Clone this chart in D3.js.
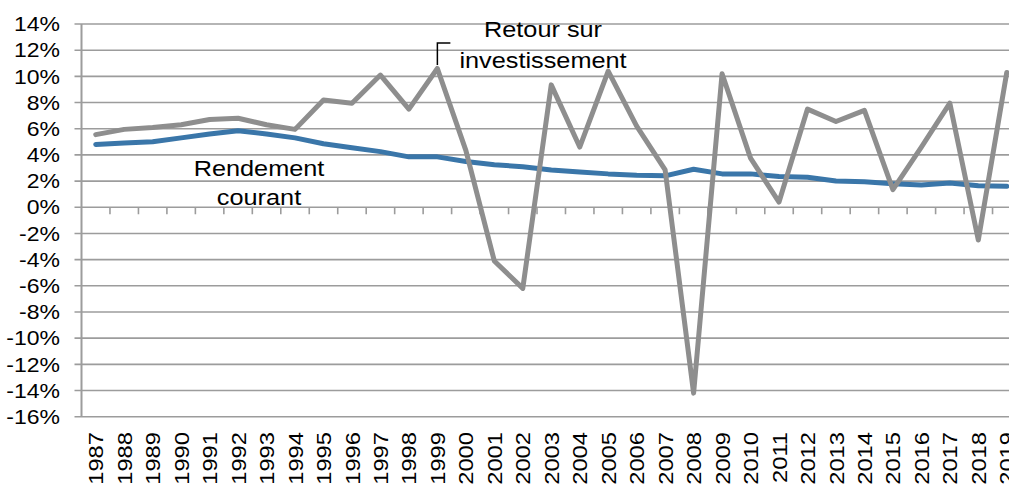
<!DOCTYPE html>
<html>
<head>
<meta charset="utf-8">
<script src="https://cdn.jsdelivr.net/npm/d3@7"></script>
<style>
  html, body { margin: 0; padding: 0; background: #fff; }
  svg { display: block; }
  text { font-family: "Liberation Sans", Arial, sans-serif; fill: #000; }
</style>
</head>
<body>
<svg id="chart" width="1009" height="484"></svg>
<script>
// ---- data ----
const years = d3.range(1987, 2020).map(String);
const rendementCourant = [4.8,4.9,5.0,5.3,5.6,5.85,5.6,5.3,4.85,4.55,4.25,3.85,3.85,3.5,3.25,3.1,2.85,2.7,2.55,2.45,2.4,2.9,2.55,2.55,2.35,2.3,2.0,1.95,1.8,1.7,1.85,1.65,1.6];
const retourInvest = [5.55,5.95,6.1,6.3,6.7,6.8,6.3,5.95,8.2,7.95,10.1,7.5,10.6,4.35,-4.1,-6.2,9.35,4.6,10.4,6.2,2.85,-14.2,10.2,3.75,0.4,7.5,6.55,7.4,1.35,4.6,7.95,-2.5,10.3];
const yTicks = d3.range(-16, 15, 2);
const yTickLabels = yTicks.map(v => v + "%");
const labelRetour = ["Retour sur", "investissement"];
const labelRendement = ["Rendement", "courant"];

// ---- layout ----
const W = 1009, H = 484;
const plotLeft = 81.5, step = 28.47;
const plotTop = 24, plotBottom = 416.7;
const svg = d3.select("#chart");

const x = d3.scaleBand().domain(years).range([plotLeft, plotLeft + step * years.length]).paddingInner(0).paddingOuter(0);
const y = d3.scaleLinear().domain([-16, 14]).range([plotBottom, plotTop]);
const cx = d => x(d) + x.bandwidth() / 2;

const gridColor = "#9c9c9c";

// gridlines
svg.append("g").selectAll("line").data(yTicks).join("line")
  .attr("x1", plotLeft - 7).attr("x2", W)
  .attr("y1", d => y(d)).attr("y2", d => y(d))
  .attr("stroke", gridColor).attr("stroke-width", 1.6);

// y axis line
svg.append("line").attr("x1", plotLeft).attr("x2", plotLeft)
  .attr("y1", y(14)).attr("y2", y(-16))
  .attr("stroke", gridColor).attr("stroke-width", 2);

// x axis ticks at 0% (category boundaries)
const gx = svg.append("g").attr("transform", `translate(0,${y(0)})`);
gx.selectAll("line").data(years).join("line")
  .attr("x1", d => x(d) + x.bandwidth()).attr("x2", d => x(d) + x.bandwidth())
  .attr("y1", 0).attr("y2", 7)
  .attr("stroke", gridColor).attr("stroke-width", 1.6);

// y tick labels
const ySx = 1.15;
svg.append("g").selectAll("text").data(yTicks).join("text")
  .attr("transform", d => `translate(60,${y(d)}) scale(${ySx},1)`)
  .attr("text-anchor", "end").attr("dy", "0.36em")
  .style("font-size", "20px")
  .text((d, i) => yTickLabels[i]);

// x tick labels (rotated)
svg.append("g").selectAll("text").data(years).join("text")
  .attr("transform", d => `translate(${cx(d)},432) rotate(-90) scale(1.13,1)`)
  .attr("text-anchor", "end").attr("dy", "0.36em")
  .style("font-size", "21px")
  .text(d => d);

// lines
const line = d3.line().x((d, i) => cx(years[i])).y(d => y(d));
svg.append("path").datum(rendementCourant)
  .attr("d", line).attr("fill", "none")
  .attr("stroke", "#3a76a9").attr("stroke-width", 5)
  .attr("stroke-linejoin", "round").attr("stroke-linecap", "round");
svg.append("path").datum(retourInvest)
  .attr("d", line).attr("fill", "none")
  .attr("stroke", "#8e8e8e").attr("stroke-width", 5)
  .attr("stroke-linejoin", "round").attr("stroke-linecap", "round");

// annotations
const annSx = 1.15;
function annot(lines, xc, y0, gap) {
  svg.append("g").selectAll("text").data(lines).join("text")
    .attr("transform", (d, i) => `translate(${xc},${y0 + i * gap}) scale(${annSx},1)`)
    .attr("text-anchor", "middle")
    .style("font-size", "22px")
    .text(d => d);
}
annot(labelRetour, 543, 37, 31);
annot(labelRendement, 259, 176, 29);

// leader line for Retour sur investissement
const lx = cx("1999");
svg.append("path")
  .attr("d", `M${lx},65 L${lx},43 L${lx + 13},43`)
  .attr("fill", "none").attr("stroke", "#000").attr("stroke-width", 1.5);
</script>
</body>
</html>
